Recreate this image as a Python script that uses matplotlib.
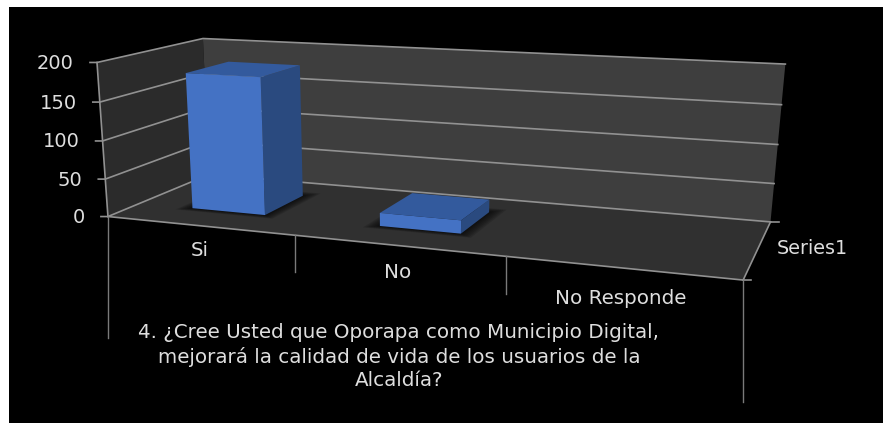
import numpy as np
import matplotlib
matplotlib.use("Agg")
import matplotlib.pyplot as plt
from matplotlib.patches import Polygon, Rectangle

categories = ['Si', 'No', 'No Responde']
values = [180, 17, 0]
series_name = 'Series1'
y_ticks = [0, 50, 100, 150, 200]
title_lines = ['4. ¿Cree Usted que Oporapa como Municipio Digital,',
               'mejorará la calidad de vida de los usuarios de la',
               'Alcaldía?']

W, H = 883, 423

# corners of the 3d box: (category, value, depth) -> pixel in the picture
box_world = [(0, 0, 0), (0, 200, 0), (3, 0, 0),
             (0, 0, 1), (0, 200, 1), (3, 0, 1), (3, 200, 1)]
box_pix = [(110, 217), (95, 62), (743, 280),
           (207, 174), (205, 39), (771, 222), (785, 64)]


def fit_camera(world, pix):
    rows = []
    for (x, y, z), (u, v) in zip(world, pix):
        y = y / 200
        rows.append([x, y, z, 1, 0, 0, 0, 0, -u*x, -u*y, -u*z, -u])
        rows.append([0, 0, 0, 0, x, y, z, 1, -v*x, -v*y, -v*z, -v])
    return np.linalg.svd(np.array(rows))[2][-1].reshape(3, 4)


cam = fit_camera(box_world, box_pix)


def proj(x, y, z):
    p = cam @ np.array([x, y / 200, z, 1])
    return p[0] / p[2], p[1] / p[2]


fig = plt.figure(figsize=(W / 100, H / 100), dpi=100, facecolor='white')
ax = fig.add_axes([0, 0, 1, 1])
ax.set_xlim(0, W)
ax.set_ylim(H, 0)
ax.axis('off')
ax.add_patch(Rectangle((9, 7), W - 9, H - 7, color='black', lw=0))

text_col = '#dedede'
line_col = '#919191'

# walls and floor
ax.add_patch(Polygon([proj(0, 0, 0), proj(0, 200, 0), proj(0, 200, 1), proj(0, 0, 1)], color='#2b2b2b', lw=0))
ax.add_patch(Polygon([proj(0, 0, 1), proj(0, 200, 1), proj(3, 200, 1), proj(3, 0, 1)], color='#3e3e3e', lw=0))
ax.add_patch(Polygon([proj(0, 0, 0), proj(0, 0, 1), proj(3, 0, 1), proj(3, 0, 0)], color='#303030', lw=0))

for t in y_ticks:
    a, b, c = proj(0, t, 0), proj(0, t, 1), proj(3, t, 1)
    ax.plot([a[0] - 7, a[0], b[0], c[0]], [a[1], a[1], b[1], c[1]], color=line_col, lw=1.2, zorder=2)
    ax.text(a[0] - 23, a[1] + 1, str(t), color=text_col, fontsize=14, ha='right', va='center')

# box edges
ax.plot(*zip(proj(0, 0, 0), proj(0, 200, 0)), color=line_col, lw=1.2, zorder=2)
ax.plot(*zip(proj(0, 0, 0), proj(3, 0, 0), proj(3, 0, 1)), color=line_col, lw=1.2, zorder=2)
ax.plot([proj(3, 0, 0)[0], proj(3, 0, 0)[0] + 8], [proj(3, 0, 0)[1]] * 2, color=line_col, lw=1.2, zorder=2)
ax.plot([proj(3, 0, 1)[0], proj(3, 0, 1)[0] + 8], [proj(3, 0, 1)[1]] * 2, color=line_col, lw=1.2, zorder=2)

# category separators under the floor
tick_len = [121, 37, 38, 122]
for i, n in enumerate(tick_len):
    x0, y0 = proj(i, 0, 0)
    ax.plot([x0, x0], [y0, y0 + n], color='#7a7a7a', lw=1.0, zorder=2)

# bars
gap = 0.3
d0, d1 = 0.29, 0.72
for i, v in enumerate(values):
    if v == 0:
        continue
    x0, x1 = i + gap, i + 1 - gap
    # soft shadow on the floor
    for s in [0.13, 0.11, 0.09, 0.07, 0.05, 0.03, 0.015]:
        ax.add_patch(Polygon([proj(x0 - s * 0.5, 0, d0 - s * 0.4), proj(x1 + s * 0.5, 0, d0 - s * 0.4),
                              proj(x1 + s * 0.5, 0, d1 + s * 0.6), proj(x0 - s * 0.5, 0, d1 + s * 0.6)],
                             color='black', alpha=0.13, lw=0, zorder=3))
    ax.add_patch(Polygon([proj(x1, 0, d0), proj(x1, v, d0), proj(x1, v, d1), proj(x1, 0, d1)], color='#2a4a7f', lw=0, zorder=4))
    ax.add_patch(Polygon([proj(x0, v, d0), proj(x1, v, d0), proj(x1, v, d1), proj(x0, v, d1)], color='#335a9d', lw=0, zorder=4))
    ax.add_patch(Polygon([proj(x0, 0, d0), proj(x1, 0, d0), proj(x1, v, d0), proj(x0, v, d0)], color='#4472c4', lw=0, zorder=5))

# labels
label_pos = [(200, 251), (398, 272), (621, 298)]
for name, (x, y) in zip(categories, label_pos):
    ax.text(x, y, name, color=text_col, fontsize=14.3, ha='center', va='center')
ax.text(812, 249, series_name, color=text_col, fontsize=13.8, ha='center', va='center')

for line, y in zip(title_lines, [333, 357, 381]):
    ax.text(399, y, line, color=text_col, fontsize=14.3, ha='center', va='center')

fig.savefig('out.png', dpi=100, facecolor='white')
